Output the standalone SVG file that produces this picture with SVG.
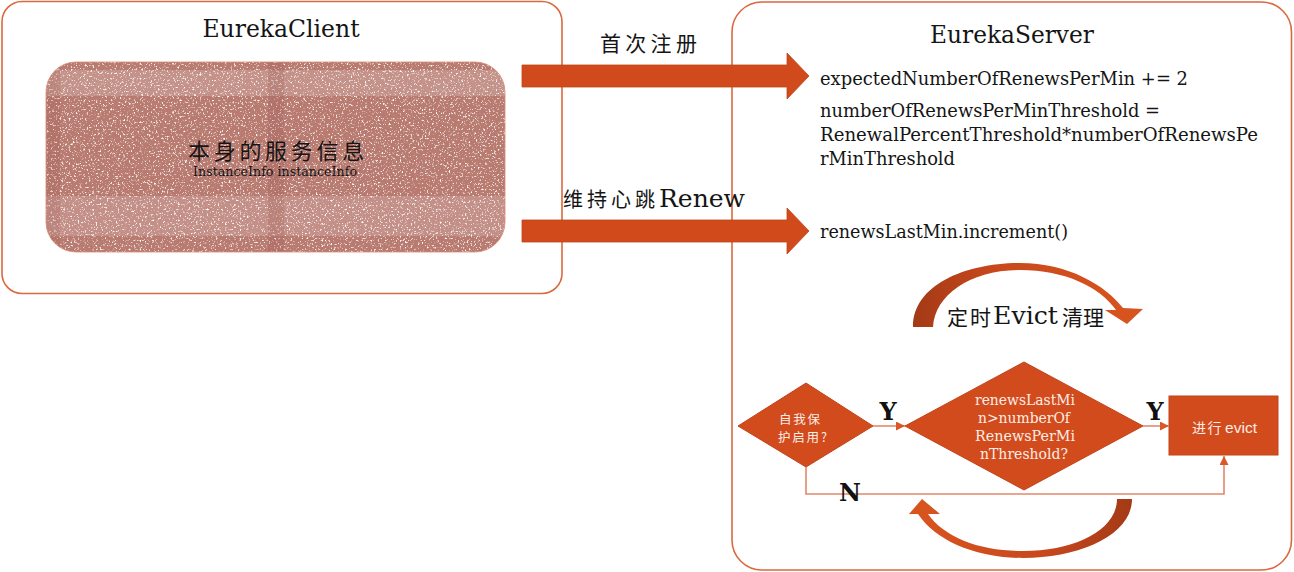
<svg xmlns="http://www.w3.org/2000/svg" width="1294" height="572" viewBox="0 0 1294 572">
<style>
.box{fill:#ffffff;stroke:#D9693F;stroke-width:1.6}
.shape{fill:#D24B1C;stroke:#C2441A;stroke-width:1}
.big{fill:#D04A1B;stroke:#C04418;stroke-width:0.8}
.conn{fill:none;stroke:#E2886A;stroke-width:1.6}
.serif{font-family:"DejaVu Serif","Liberation Serif",serif;fill:#151515}
.cjk{font-family:"Noto Sans CJK SC","Noto Sans",sans-serif;fill:#151515}
.wt{fill:#FCEDE6}
.lbl{font-family:"DejaVu Serif","Liberation Serif",serif;font-weight:bold;font-size:24px;fill:#111}
</style>
<defs>
<marker id="ah" markerWidth="9" markerHeight="9" refX="9" refY="4.5" orient="auto" markerUnits="userSpaceOnUse">
<path d="M0,0 L9,4.5 L0,9 Z" fill="#D9582A"/>
</marker>
<linearGradient id="curveTop" x1="0" y1="0" x2="1" y2="0">
<stop offset="0" stop-color="#A33A16"/>
<stop offset="0.35" stop-color="#C8481C"/>
<stop offset="1" stop-color="#D9551F"/>
</linearGradient>
<linearGradient id="curveBot" x1="0" y1="0" x2="1" y2="0">
<stop offset="0" stop-color="#D9551F"/>
<stop offset="0.6" stop-color="#C8481C"/>
<stop offset="1" stop-color="#A33A16"/>
</linearGradient>
<filter id="grain" x="0" y="0" width="1" height="1">
<feTurbulence type="fractalNoise" baseFrequency="0.55" numOctaves="2" seed="7" result="noise"/>
<feColorMatrix in="noise" type="matrix" values="0 0 0 0 1  0 0 0 0 1  0 0 0 0 1  4.5 0 0 0 -2.6" result="spk"/>
<feComposite in="spk" in2="SourceAlpha" operator="in" result="spk2"/>
<feMerge><feMergeNode in="SourceGraphic"/><feMergeNode in="spk2"/></feMerge>
</filter>
<clipPath id="innerClip"><rect x="46" y="62" width="459" height="190" rx="30"/></clipPath>
</defs>

<g id="eureka-client">
<rect class="box" x="2" y="1.5" width="560" height="292" rx="20"/>
<text class="serif" x="281" y="37" font-size="23.5" text-anchor="middle">EurekaClient</text>
</g>

<g id="instance-info">
<rect x="46" y="62" width="459" height="190" rx="30" fill="#B97A70" filter="url(#grain)"/>
<g clip-path="url(#innerClip)">
<rect x="46" y="70" width="459" height="26" fill="#ffffff" opacity="0.18"/>
<rect x="46" y="196" width="459" height="40" fill="#ffffff" opacity="0.16"/>
<rect x="46" y="62" width="14" height="190" fill="#9E5C52" opacity="0.2"/>
<rect x="268" y="62" width="16" height="190" fill="#9E5C52" opacity="0.25"/>
</g>
<rect x="46" y="62" width="459" height="190" rx="30" fill="none" stroke="#D98C74" stroke-width="0.8"/>
<text class="cjk" x="188" y="159" font-size="22" letter-spacing="3.7">本身的服务信息</text>
<text class="serif" x="193" y="176" font-size="13" fill="#0a0a0a" textLength="164" lengthAdjust="spacingAndGlyphs">InstanceInfo instanceInfo</text>
</g>

<g id="eureka-server">
<rect class="box" x="732" y="2" width="559.5" height="568" rx="30"/>
<text class="serif" x="1012" y="43" font-size="23.3" text-anchor="middle">EurekaServer</text>
<text class="serif" x="820" y="85" font-size="18" textLength="368" lengthAdjust="spacingAndGlyphs">expectedNumberOfRenewsPerMin += 2</text>
<text class="serif" x="820" y="117" font-size="18" textLength="340" lengthAdjust="spacingAndGlyphs">numberOfRenewsPerMinThreshold =</text>
<text class="serif" x="820" y="141" font-size="18" textLength="438" lengthAdjust="spacingAndGlyphs">RenewalPercentThreshold*numberOfRenewsPe</text>
<text class="serif" x="820" y="165" font-size="18" textLength="135" lengthAdjust="spacingAndGlyphs">rMinThreshold</text>
<text class="serif" x="820" y="238" font-size="18" textLength="248" lengthAdjust="spacingAndGlyphs">renewsLastMin.increment()</text>
</g>

<g id="register-arrow">
<path class="big" d="M522,65 L787,65 L787,53 L809,76 L787,99 L787,87 L522,87 Z"/>
<text class="cjk" x="600" y="51" font-size="21" letter-spacing="4.3">首次注册</text>
</g>

<g id="renew-arrow">
<path class="big" d="M522,220 L787,220 L787,208 L809,231 L787,254 L787,242 L522,242 Z"/>
<text x="563" y="207"><tspan class="cjk" font-size="20" letter-spacing="4">维持心跳</tspan><tspan class="serif" x="659" font-size="24" textLength="86" lengthAdjust="spacingAndGlyphs">Renew</tspan></text>
</g>

<g id="evict-loop">
<path fill="url(#curveTop)" d="M913,327 C913,285 965,263 1020,263 C1068,263 1105,285 1123,308 L1143,309 L1127,324 L1105,310 L1116,310 C1100,287 1065,270 1020,270 C970,270 935,295 933,327 Z"/>
<text class="cjk" x="947" y="325" font-size="21" letter-spacing="2">定时</text>
<text class="serif" x="993" y="324" font-size="25" textLength="65" lengthAdjust="spacingAndGlyphs">Evict</text>
<text class="cjk" x="1062" y="325" font-size="21" letter-spacing="0">清理</text>
</g>

<g id="loop-back">
<path fill="url(#curveBot)" d="M1132,499 C1132,535 1080,558 1023,558 C975,558 935,540 918,514 L909,514 L922,499 L940,514 L928,514 C945,538 980,551 1023,551 C1075,551 1117,530 1117,499 Z"/>
</g>

<g id="self-protect">
<path class="shape" d="M738,426 L806,383 L873,426 L806,467 Z"/>
<text class="cjk wt" x="779" y="424" font-size="12.5" letter-spacing="1.8">自我保</text>
<text class="cjk wt" x="778" y="442" font-size="12.5" letter-spacing="1.8">护启用?</text>
</g>

<g id="threshold-check">
<path class="shape" d="M905,426 L1024,362 L1143,426 L1024,490 Z"/>
<text class="serif wt" x="1025" y="405" font-size="15" text-anchor="middle" textLength="100" lengthAdjust="spacingAndGlyphs">renewsLastMi</text>
<text class="serif wt" x="1024" y="423" font-size="15" text-anchor="middle" textLength="92" lengthAdjust="spacingAndGlyphs">n&gt;numberOf</text>
<text class="serif wt" x="1025" y="441" font-size="15" text-anchor="middle" textLength="100" lengthAdjust="spacingAndGlyphs">RenewsPerMi</text>
<text class="serif wt" x="1024" y="459" font-size="15" text-anchor="middle" textLength="88" lengthAdjust="spacingAndGlyphs">nThreshold?</text>
</g>

<g id="do-evict">
<rect class="shape" x="1169" y="396" width="109" height="59"/>
<text class="cjk wt" x="1192" y="433" font-size="14" letter-spacing="1.5">进行</text>
<text class="wt" x="1225" y="433" font-size="15" font-family="'Liberation Sans','Open Sans',sans-serif" textLength="32" lengthAdjust="spacingAndGlyphs">evict</text>
</g>

<g id="connectors">
<path class="conn" d="M873,426 L905,426" marker-end="url(#ah)"/>
<path class="conn" d="M1143,426 L1169,426" marker-end="url(#ah)"/>
<path class="conn" d="M806,467 L806,494 L1224,494 L1224,456" marker-end="url(#ah)"/>
<text class="lbl" x="888" y="420" text-anchor="middle">Y</text>
<text class="lbl" x="1155" y="420" text-anchor="middle">Y</text>
<text class="lbl" x="850" y="501" text-anchor="middle">N</text>
</g>
</svg>
